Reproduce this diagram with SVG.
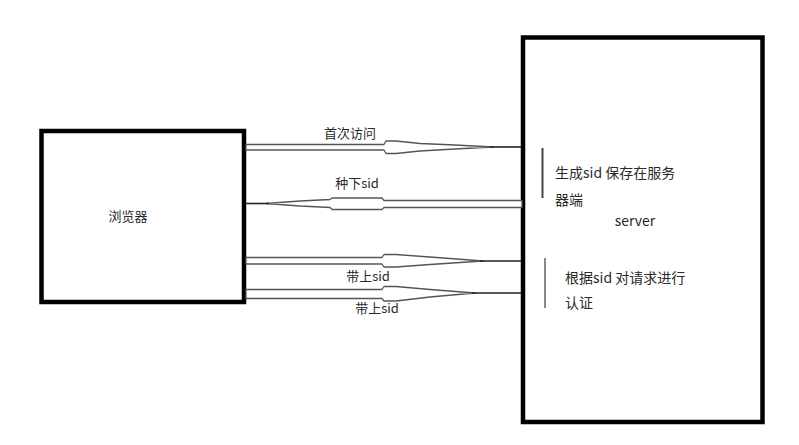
<svg xmlns="http://www.w3.org/2000/svg" width="799" height="445" viewBox="0 0 799 445">
<style>
.box{fill:#fff;stroke:#000;stroke-width:4.5}
.arr{fill:#fff;stroke:#555;stroke-width:1.3;stroke-linejoin:round}
.tip{stroke:#222;stroke-width:1.6}
.t{font-family:"Noto Sans CJK SC","Liberation Sans",sans-serif;fill:#2a2a2a;font-size:13px}
.s{font-size:14px}
</style>
<rect width="799" height="445" fill="#fff"/>
<g id="browser">
<rect class="box" x="41.5" y="131" width="202.5" height="171"/>
<text class="t" x="128" y="221" text-anchor="middle">浏览器</text>
</g>
<g id="server">
<rect class="box" x="523" y="37.5" width="239.5" height="384.5"/>
<line x1="542.5" y1="148" x2="542.5" y2="198" stroke="#444" stroke-width="2"/>
<text class="t s" x="555" y="178">生成sid 保存在服务</text>
<text class="t s" x="555" y="205">器端</text>
<text class="t s" x="635" y="226" text-anchor="middle">server</text>
<line x1="545" y1="258" x2="545" y2="308" stroke="#888" stroke-width="2"/>
<text class="t s" x="565" y="283">根据sid 对请求进行</text>
<text class="t s" x="565" y="308">认证</text>
</g>
<g id="connectors">
<polygon class="arr" points="246,144.5 384,144.5 386,141 396,141 420,143.5 455,145 493,147 455,149 420,151 396,153.5 386,153.5 384,150 246,150"/>
<line class="tip" x1="490" y1="147" x2="521" y2="147"/>
<polygon class="arr" points="522,200.5 384,200.5 382,198 332,198 330,199.5 300,201 266,203.5 300,206 330,207.5 332,209.5 382,209.5 384,207.5 522,207.5"/>
<line class="tip" x1="246" y1="203.5" x2="269" y2="203.5"/>
<polygon class="arr" points="246,257.5 382,257.5 384,254.5 396,254.5 430,257 483,261 430,264.5 396,267 384,267 382,264 246,264"/>
<line class="tip" x1="480" y1="261" x2="521" y2="261"/>
<polygon class="arr" points="246,289.5 382,289.5 384,286.5 396,286.5 430,289.5 475,293 430,297 396,301 384,301 382,298.5 246,298.5"/>
<line class="tip" x1="472" y1="293" x2="521" y2="293"/>
</g>
<g id="labels">
<text class="t" x="350" y="137.5" text-anchor="middle">首次访问</text>
<text class="t" x="357" y="187.5" text-anchor="middle">种下sid</text>
<text class="t" x="368" y="281" text-anchor="middle">带上sid</text>
<text class="t" x="377" y="312.5" text-anchor="middle">带上sid</text>
</g>
</svg>
